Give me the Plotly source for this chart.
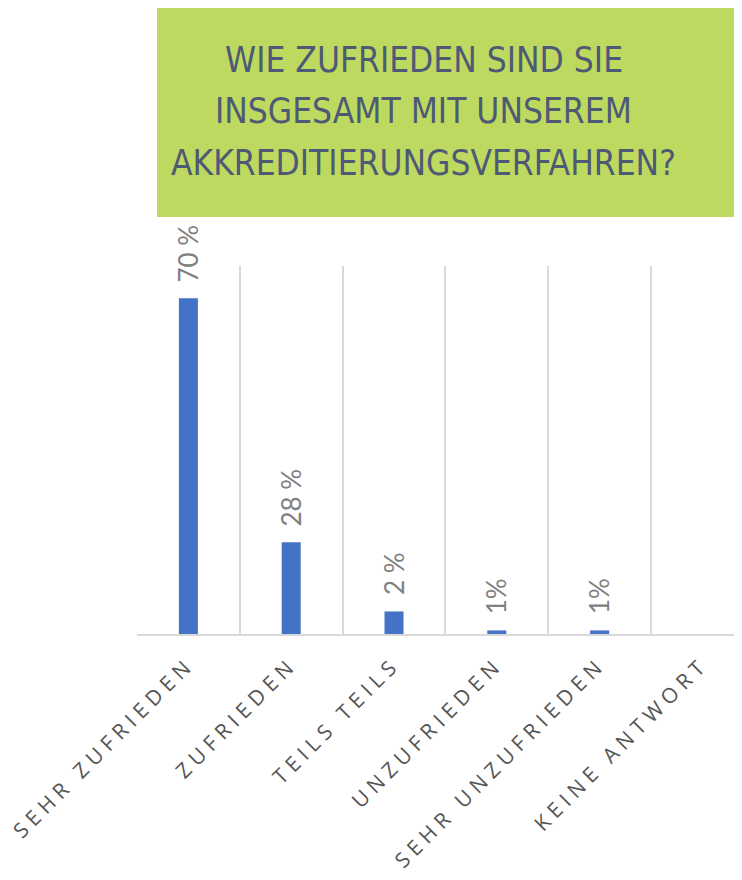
import plotly.graph_objects as go

# data
categories = ["SEHR ZUFRIEDEN", "ZUFRIEDEN", "TEILS TEILS", "UNZUFRIEDEN",
              "SEHR UNZUFRIEDEN", "KEINE ANTWORT"]
bar_heights = [70, 19.1, 4.7, 0.75, 0.75, 0]
bar_labels = ["70 %", "28 %", "2 %", "1%", "1%", ""]
title_lines = ["WIE ZUFRIEDEN SIND SIE", "INSGESAMT MIT UNSEREM",
               "AKKREDITIERUNGSVERFAHREN?"]

BLUE = "#4472C4"
GREEN = "#BED95F"
GRID = "#D9D9D9"

fig = go.Figure()

fig.add_trace(go.Bar(
    x=categories,
    y=bar_heights,
    marker=dict(color=BLUE, line=dict(width=0)),
    hoverinfo="x+text",
    hovertext=bar_labels,
    showlegend=False,
))

# rotated data labels above each bar
for cat, h, lab in zip(categories, bar_heights, bar_labels):
    if not lab:
        continue
    fig.add_annotation(
        x=cat, y=h, text=lab, textangle=-90,
        showarrow=False, xanchor="center", yanchor="bottom", yshift=14,
        font=dict(family="Lato, Open Sans, sans-serif", size=26, color="#808080"),
    )

# green title box
fig.add_shape(
    type="rect", xref="paper", yref="paper",
    x0=0.0331, x1=1.05, y0=1.133, y1=1.7114,
    fillcolor=GREEN, line=dict(width=0), layer="below",
)
# one annotation per line so the line pitch can follow the reference
for i, line in enumerate(title_lines):
    fig.add_annotation(
        xref="paper", yref="paper", x=0.474, y=1.561 - i * 0.14,
        text=line, showarrow=False,
        xanchor="center", yanchor="middle", align="center",
        font=dict(family="DejaVu Sans Condensed, Liberation Sans Narrow, sans-serif",
                  size=35, color="#4E5A75"),
    )

fig.update_layout(
    width=734, height=872,
    margin=dict(l=129, r=0, t=258, b=246, autoexpand=False),
    paper_bgcolor="white", plot_bgcolor="white",
    bargap=0.815,
    xaxis=dict(
        type="category", categoryarray=categories,
        range=[-0.5, 5.385], tickson="boundaries",
        showgrid=True, gridcolor=GRID, gridwidth=1.5,
        showline=True, linecolor=GRID, linewidth=1.5,
        ticks="", tickangle=-45, automargin=False, ticklabelstandoff=8,
        tickfont=dict(family="Open Sans, sans-serif", size=21, color="#555555"),
    ),
    yaxis=dict(range=[0, 76.7], visible=False, showgrid=False, zeroline=False),
)

# Excel-style letter spacing on the category labels
spacing_js = """
document.querySelectorAll('.xtick text').forEach(function(t){
    t.setAttribute('letter-spacing', '5.5px');
});
"""

fig.write_html("out.html", post_script=spacing_js)
